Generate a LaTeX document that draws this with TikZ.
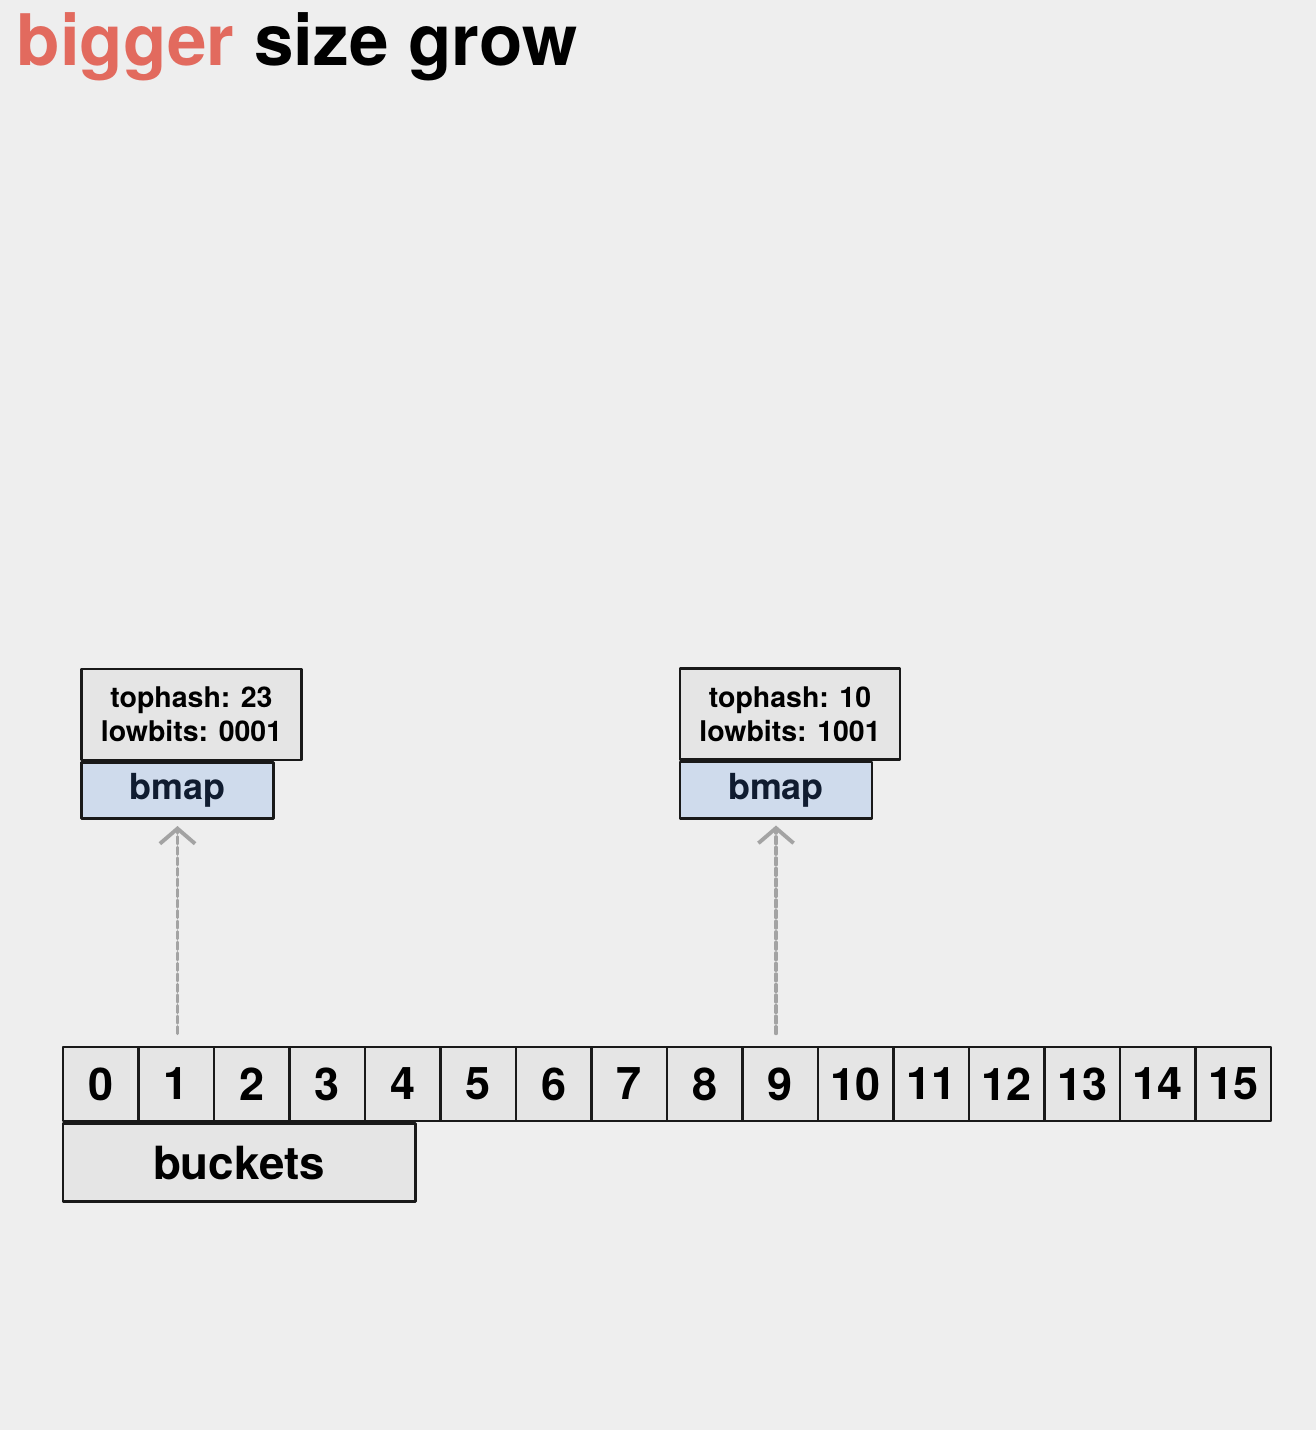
\documentclass[tikz,border=0pt]{standalone}
\usepackage{fontspec}
\setmainfont{TeX Gyre Heros}
\usetikzlibrary{arrows.meta,positioning}
\definecolor{bggray}{HTML}{EEEEEE}
\definecolor{cellgray}{HTML}{E5E5E5}
\definecolor{bmapblue}{HTML}{CFDBEC}
\definecolor{titlered}{HTML}{E26A5E}
\definecolor{hintgray}{HTML}{A3A3A3}
\definecolor{navy}{HTML}{101C30}

\begin{document}
\begin{tikzpicture}[x=0.01cm, y=-0.01cm, line join=round, line cap=round,
		box/.style={draw=black!90, line width=0.75pt, fill=cellgray, inner sep=0pt},
		cell/.style={box, minimum width=0.755cm, minimum height=0.74cm, font=\fontsize{12.8}{14}\bfseries},
		info/.style={box, minimum width=2.2cm, minimum height=0.91cm, align=center, font=\fontsize{8.1}{9.8}\bfseries},
		bmap/.style={box, fill=bmapblue, minimum width=1.92cm, minimum height=0.56cm, text=navy, font=\fontsize{10.2}{12}\bfseries},
		hint/.style={draw=hintgray, line width=0.9pt, dash pattern=on 2pt off 1pt, shorten <=0.12cm, shorten >=0.06cm,
			-{Straight Barb[length=4.3pt, width=10pt, line width=1.1pt]}}]
	\fill[bggray] (0,0) rectangle (1316,1430);
	\node[anchor=base west, inner sep=0pt, font=\fontsize{20.2}{24}\bfseries] (title) at (16,65) {{\color{titlered}bigger} size grow};
	% buckets array
	\foreach \i in {0,...,15} \node[cell] (c\i) at ({63+75.5*(\i+0.5)},1084) {\i};
	\node[box, anchor=north west, minimum width=3.52cm, minimum height=0.78cm, font=\fontsize{13}{15}\bfseries] (buckets) at (c0.south west) {buckets};
	% entries
	\node[info] (infoA) at (191.5,714.5) {tophash: 23\\lowbits: 0001};
	\node[bmap, anchor=north west] (bmapA) at (infoA.south west) {bmap};
	\node[info] (infoB) at (790,714) {tophash: 10\\lowbits: 1001};
	\node[bmap, anchor=north west] (bmapB) at (infoB.south west) {bmap};
	\draw[hint] (c1.north -| bmapA.south) -- (bmapA.south);
	\draw[hint] (c9.north -| bmapB.south) -- (bmapB.south);
\end{tikzpicture}
\end{document}
